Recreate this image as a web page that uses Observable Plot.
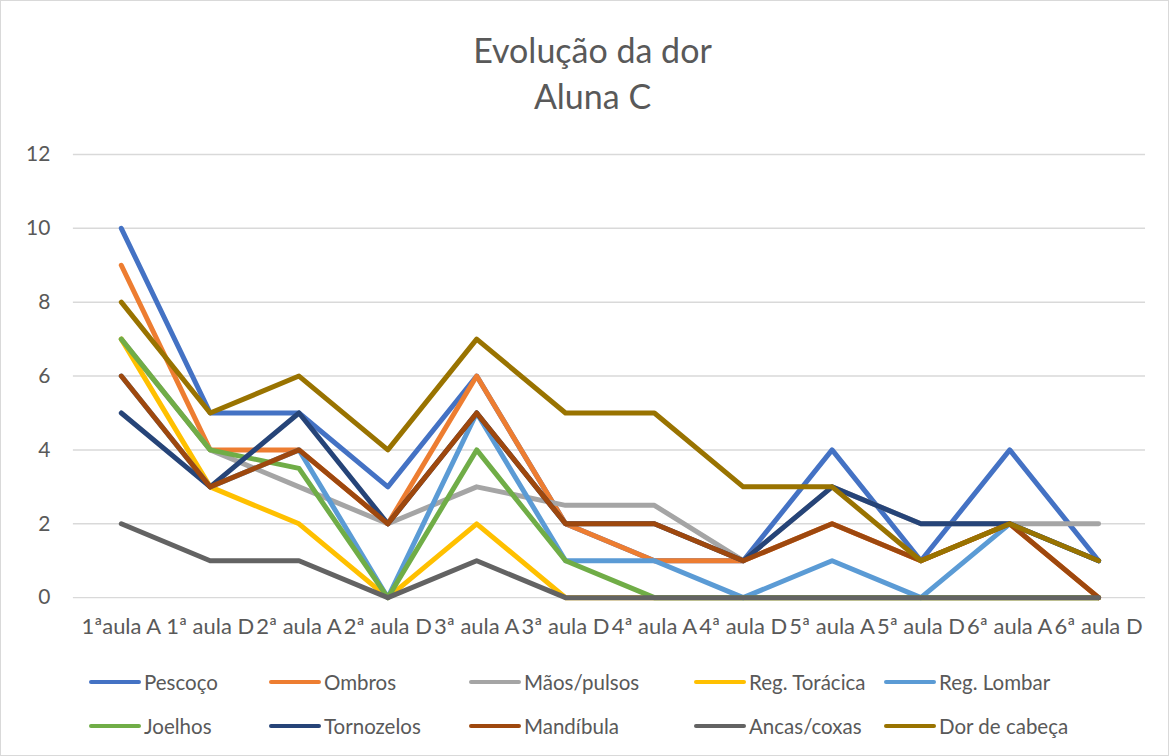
<!DOCTYPE html>
<html>
<head>
<meta charset="utf-8">
<script src="https://cdn.jsdelivr.net/npm/d3@7"></script>
<script src="https://cdn.jsdelivr.net/npm/@observablehq/plot@0.6"></script>
<style>
  html, body { margin: 0; padding: 0; background: #fff; }
  #frame { position: relative; width: 1167px; height: 754px; border: 1px solid #d9d9d9; overflow: hidden; font-family: Lato, "Open Sans", sans-serif; color: #595959; }
  #title { position: absolute; left: 8px; width: 1167px; top: 26px; text-align: center; font-size: 34px; line-height: 46px; color: #595959; }
  #chart { position: absolute; left: 0; top: 120px; }
  .leg { position: absolute; display: flex; align-items: center; font-size: 20.5px; color: #595959; white-space: nowrap; }
  .sw { display: inline-block; width: 52px; height: 4.5px; border-radius: 2.5px; margin-right: 3px; }
</style>
</head>
<body>
<div id="frame">
  <div id="title">Evolução da dor<br>Aluna C</div>
  <div id="chart"></div>
  <div id="legend"></div>
</div>
<script>
const categories = ["1ªaula A", "1ª aula D", "2ª aula A", "2ª aula D", "3ª aula A", "3ª aula D", "4ª aula A", "4ª aula D", "5ª aula A", "5ª aula D", "6ª aula A", "6ª aula D"];
const seriesNames = ["Pescoço", "Ombros", "Mãos/pulsos", "Reg. Torácica", "Reg. Lombar", "Joelhos", "Tornozelos", "Mandíbula", "Ancas/coxas", "Dor de cabeça"];
const seriesColors = ["#4472C4", "#ED7D31", "#A5A5A5", "#FFC000", "#5B9BD5", "#70AD47", "#264478", "#9E480E", "#636363", "#997300"];

const pescoco     = [10, 5, 5, 3, 6, 2, 1, 1, 4, 1, 4, 1];
const ombros      = [9, 4, 4, 2, 6, 2, 1, 1, 2, 1, 2, 0];
const maosPulsos  = [7, 4, 3, 2, 3, 2.5, 2.5, 1, 3, 2, 2, 2];
const regToracica = [7, 3, 2, 0, 2, 0, 0, 0, 0, 0, 0, 0];
const regLombar   = [6, 3, 4, 0, 5, 1, 1, 0, 1, 0, 2, 1];
const joelhos     = [7, 4, 3.5, 0, 4, 1, 0, 0, 0, 0, 0, 0];
const tornozelos  = [5, 3, 5, 2, 5, 2, 2, 1, 3, 2, 2, 1];
const mandibula   = [6, 3, 4, 2, 5, 2, 2, 1, 2, 1, 2, 0];
const ancasCoxas  = [2, 1, 1, 0, 1, 0, 0, 0, 0, 0, 0, 0];
const dorCabeca   = [8, 5, 6, 4, 7, 5, 5, 3, 3, 1, 2, 1];

const yTicks = [0, 2, 4, 6, 8, 10, 12];

const allSeries = [pescoco, ombros, maosPulsos, regToracica, regLombar, joelhos, tornozelos, mandibula, ancasCoxas, dorCabeca];
const data = [];
allSeries.forEach((vals, i) => {
  vals.forEach((v, j) => data.push({ serie: seriesNames[i], cat: categories[j], value: v }));
});

const chart = Plot.plot({
  width: 1169,
  height: 540,
  marginLeft: 72,
  marginRight: 23,
  marginTop: 33,
  marginBottom: 63,
  style: { fontFamily: "Lato, 'Open Sans', sans-serif", fontSize: "21px", color: "#595959", background: "transparent" },
  x: { type: "point", domain: categories, padding: 0.5, label: null, tickSize: 0, tickPadding: 21 },
  y: { domain: [0, 12], ticks: yTicks, label: null, tickSize: 0, tickPadding: 23 },
  color: { domain: seriesNames, range: seriesColors },
  marks: [
    Plot.ruleY(yTicks, { stroke: "#d9d9d9", strokeWidth: 1.4 }),
    Plot.line(data, { x: "cat", y: "value", z: "serie", stroke: "serie", strokeWidth: 5, strokeLinejoin: "round", strokeLinecap: "round" })
  ]
});
chart.querySelectorAll("g[aria-label='x-axis tick label'] text").forEach(t => t.style.fontSize = "22px");
document.getElementById("chart").appendChild(chart);

// Legend
const legCols = [88, 268, 468, 693, 883];
const legRows = [681, 725];
const legend = document.getElementById("legend");
seriesNames.forEach((name, i) => {
  const row = Math.floor(i / 5), col = i % 5;
  const el = document.createElement("div");
  el.className = "leg";
  el.style.left = legCols[col] + "px";
  el.style.top = (legRows[row] - 13) + "px";
  el.style.height = "26px";
  const sw = document.createElement("span");
  sw.className = "sw";
  sw.style.background = seriesColors[i];
  el.appendChild(sw);
  el.appendChild(document.createTextNode(name));
  legend.appendChild(el);
});
</script>
</body>
</html>
